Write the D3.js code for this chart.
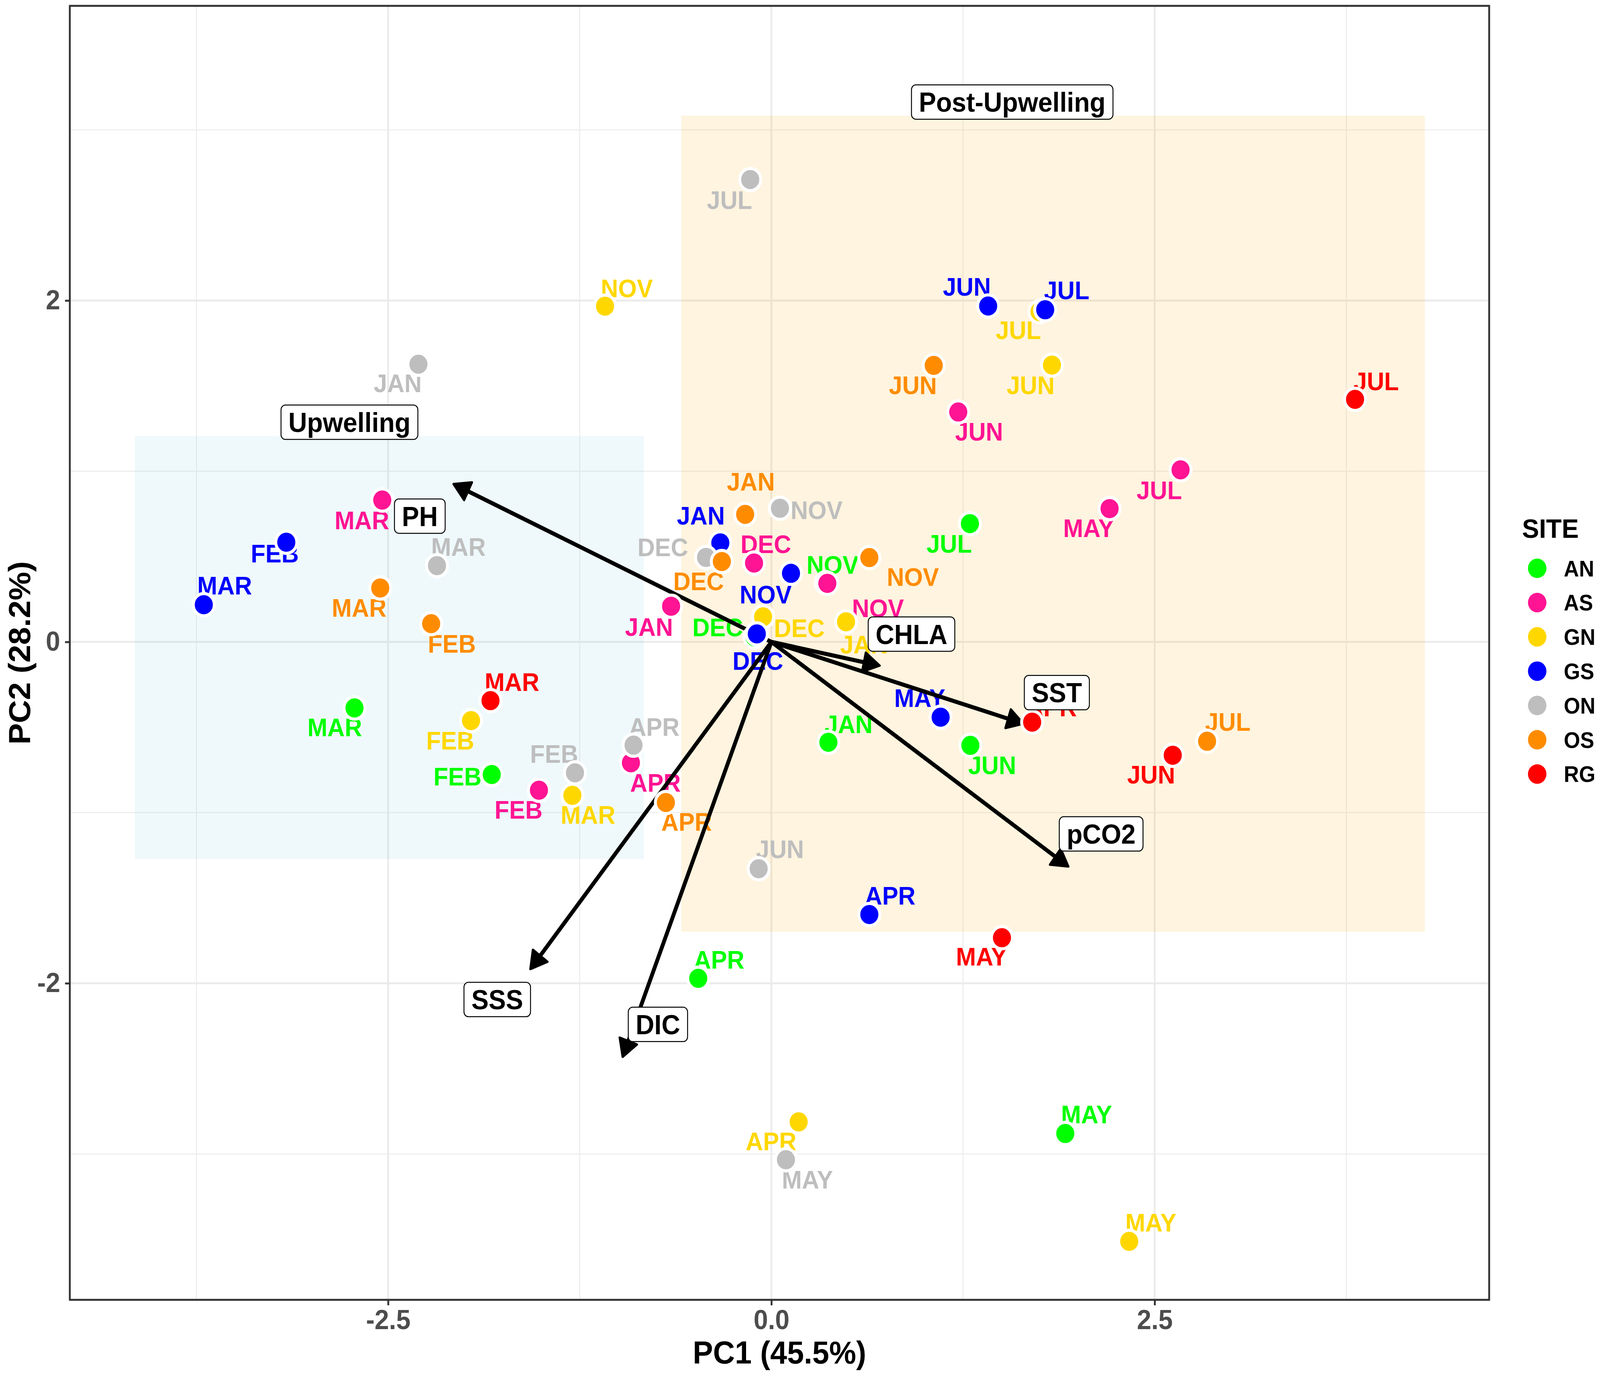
<!DOCTYPE html>
<html>
<head>
<meta charset="utf-8">
<script src="https://cdn.jsdelivr.net/npm/d3@7"></script>
<style>
  html, body { margin: 0; padding: 0; overflow: hidden; background: #fff; }
  svg { display: block; width: 100vw; height: 100vh; font-family: "Liberation Sans", Arial, Helvetica, sans-serif; font-weight: bold; }
</style>
</head>
<body>
<svg id="chart" viewBox="0 0 4331 3523" preserveAspectRatio="none"></svg>
<script>
// legend categories
const sites = ['AN', 'AS', 'GN', 'GS', 'ON', 'OS', 'RG'];
const siteColors = ['#00FF00', '#FF1493', '#FFD700', '#0000FF', '#BEBEBE', '#FF8C00', '#FF0000'];

// PCA scores, one row per site/month
const site = [
    'AN','AN','AN','AN','AN','AN','AN','AN','AN',
    'AS','AS','AS','AS','AS','AS','AS','AS','AS',
    'GN','GN','GN','GN','GN','GN','GN','GN','GN',
    'GS','GS','GS','GS','GS','GS','GS','GS','GS',
    'ON','ON','ON','ON','ON','ON','ON','ON','ON',
    'OS','OS','OS','OS','OS','OS','OS','OS',
    'RG','RG','RG','RG','RG'
];
const month = [
    'JAN','FEB','MAR','APR','MAY','JUN','JUL','NOV','DEC',
    'JAN','FEB','MAR','APR','MAY','JUN','JUL','NOV','DEC',
    'JAN','FEB','MAR','APR','MAY','JUN','JUL','NOV','DEC',
    'JAN','FEB','MAR','APR','MAY','JUN','JUL','NOV','DEC',
    'JAN','FEB','MAR','APR','MAY','JUN','JUL','NOV','DEC',
    'JAN','FEB','MAR','APR','JUN','JUL','NOV','DEC',
    'MAR','APR','MAY','JUN','JUL'
];
const pc1 = [
    0.372, -1.824, -2.719, -0.477, 1.917, 1.298, 1.295, 0.355, -0.110,
    -0.654, -1.516, -2.538, -0.916, 2.206, 1.219, 2.669, 0.365, -0.113,
    0.487, -1.959, -1.298, 0.178, 2.334, 1.830, 1.749, -1.085, -0.054,
    -0.333, -3.164, -3.702, 0.639, 1.104, 1.414, 1.786, 0.128, -0.095,
    -2.302, -1.281, -2.181, -0.899, 0.095, -0.083, -0.138, 0.056, -0.426,
    -0.171, -2.219, -2.551, -0.688, 1.059, 2.842, 0.639, -0.323,
    -1.832, 1.701, 1.504, 2.618, 3.807
];
const pc2 = [
    -0.588, -0.777, -0.387, -1.971, -2.880, -0.606, 0.693, 0.347, 0.030,
    0.209, -0.869, 0.831, -0.708, 0.781, 1.347, 1.008, 0.343, 0.462,
    0.118, -0.461, -0.899, -2.812, -3.512, 1.622, 1.935, 1.967, 0.147,
    0.580, 0.584, 0.218, -1.597, -0.441, 1.968, 1.946, 0.402, 0.047,
    1.627, -0.767, 0.447, -0.605, -3.034, -1.329, 2.709, 0.783, 0.495,
    0.747, 0.107, 0.316, -0.941, 1.620, -0.582, 0.494, 0.471,
    -0.344, -0.470, -1.733, -0.664, 1.421
];
// where the repelled month labels ended up (data units)
const labelX = [
    0.504, -2.047, -2.848, -0.341, 2.056, 1.440, 1.160, 0.399, -0.350,
    -0.798, -1.649, -2.671, -0.756, 2.070, 1.355, 2.530, 0.695, -0.036,
    0.605, -2.095, -1.196, -0.002, 2.475, 1.691, 1.611, -0.943, 0.182,
    -0.460, -3.239, -3.566, 0.775, 0.968, 1.275, 1.926, -0.037, -0.088,
    -2.437, -1.417, -2.041, -0.764, 0.235, 0.056, -0.273, 0.295, -0.708,
    -0.134, -2.084, -2.689, -0.553, 0.923, 2.977, 0.923, -0.475,
    -1.692, 1.827, 1.371, 2.477, 3.945
];
const labelY = [
    -0.481, -0.787, -0.499, -1.861, -2.766, -0.722, 0.576, 0.452, 0.086,
    0.089, -0.981, 0.714, -0.824, 0.669, 1.232, 0.891, 0.198, 0.575,
    -0.014, -0.577, -1.012, -2.924, -3.400, 1.505, 1.827, 2.074, 0.082,
    0.741, 0.520, 0.332, -1.485, -0.328, 2.082, 2.061, 0.278, -0.111,
    1.516, -0.654, 0.557, -0.496, -3.148, -1.214, 2.590, 0.773, 0.555,
    0.940, -0.009, 0.200, -1.054, 1.505, -0.466, 0.383, 0.357,
    -0.234, -0.383, -1.843, -0.776, 1.529
];

// loading vectors
const vecNames = ['PH', 'CHLA', 'SST', 'pCO2', 'SSS', 'DIC'];
const vecX = [-2.073, 0.706, 1.644, 1.937, -1.572, -0.970];
const vecY = [0.925, -0.139, -0.479, -1.316, -1.917, -2.431];
const vecLabelX = [-2.293, 0.914, 1.862, 2.151, -1.788, -0.740];
const vecLabelY = [0.737, 0.046, -0.297, -1.125, -2.095, -2.241];

// shaded seasons
const regionNames = ['Upwelling', 'Post-Upwelling'];
const regionX0 = [-4.152, -0.588];
const regionX1 = [-0.831, 4.262];
const regionY0 = [-1.272, -1.698];
const regionY1 = [1.205, 3.083];
const regionColors = ['#87CEEB', '#FFA500'];
const regionLabelX = [-2.752, 1.571];
const regionLabelY = [1.287, 3.163];

const xTicks = [-2.5, 0, 2.5];
const xMinor = [-3.75, -1.25, 1.25, 3.75];
const yTicks = [-2, 0, 2];
const yMinor = [-3, -1, 1, 3];

const panel = {left: 189, right: 4031, top: 15, bottom: 3328};

const x = d3.scaleLinear().domain([-4.5759, 4.6819]).range([panel.left, panel.right]);
const y = d3.scaleLinear().domain([-3.8547, 3.7265]).range([panel.bottom, panel.top]);
const color = d3.scaleOrdinal().domain(sites).range(siteColors);

const svg = d3.select('#chart');
svg.append('rect').attr('width', 4331).attr('height', 3523).attr('fill', '#fff');

const plot = svg.append('g');

// grid
plot.selectAll('.vminor').data(xMinor).enter().append('line')
    .attr('x1', d => x(d)).attr('x2', d => x(d))
    .attr('y1', panel.top).attr('y2', panel.bottom)
    .attr('stroke', '#EBEBEB').attr('stroke-width', 2.5);
plot.selectAll('.hminor').data(yMinor).enter().append('line')
    .attr('y1', d => y(d)).attr('y2', d => y(d))
    .attr('x1', panel.left).attr('x2', panel.right)
    .attr('stroke', '#EBEBEB').attr('stroke-width', 2.5);
plot.selectAll('.vmajor').data(xTicks).enter().append('line')
    .attr('x1', d => x(d)).attr('x2', d => x(d))
    .attr('y1', panel.top).attr('y2', panel.bottom)
    .attr('stroke', '#EBEBEB').attr('stroke-width', 5);
plot.selectAll('.hmajor').data(yTicks).enter().append('line')
    .attr('y1', d => y(d)).attr('y2', d => y(d))
    .attr('x1', panel.left).attr('x2', panel.right)
    .attr('stroke', '#EBEBEB').attr('stroke-width', 5);

// season rectangles
plot.selectAll('.region').data(regionNames).enter().append('rect')
    .attr('x', (d, i) => x(regionX0[i]))
    .attr('y', (d, i) => y(regionY1[i]))
    .attr('width', (d, i) => x(regionX1[i]) - x(regionX0[i]))
    .attr('height', (d, i) => y(regionY0[i]) - y(regionY1[i]))
    .attr('fill', (d, i) => regionColors[i])
    .attr('opacity', (d, i) => i === 0 ? 0.13 : 0.125);

const rows = site.map((s, i) => ({
    site: s, month: month[i], pc1: pc1[i], pc2: pc2[i], lx: labelX[i], ly: labelY[i]
}));

// month labels
plot.selectAll('.mlab').data(rows).enter().append('text')
    .attr('x', d => x(d.lx))
    .attr('y', d => y(d.ly))
    .attr('dy', '0.36em')
    .attr('text-anchor', 'middle')
    .attr('font-size', 65)
    .attr('fill', d => color(d.site))
    .text(d => d.month);

// leader line for the one label pushed away from its point
const farLabels = rows.filter(d => Math.hypot(x(d.lx) - x(d.pc1), y(d.ly) - y(d.pc2)) > 180);
plot.selectAll('.seg').data(farLabels).enter().append('line')
    .attr('x1', d => x(d.pc1)).attr('y1', d => y(d.pc2))
    .attr('x2', d => x(d.pc1) + (x(d.lx) - x(d.pc1)) * 0.42)
    .attr('y2', d => y(d.pc2) + (y(d.ly) - y(d.pc2)) * 0.42)
    .attr('stroke', d => color(d.site))
    .attr('stroke-width', 3.5);

// loading arrows
function headPath(x0, y0, x1, y1) {
    const len = Math.hypot(x1 - x0, y1 - y0);
    const ux = (x1 - x0) / len, uy = (y1 - y0) / len;
    const L = 50, a = Math.PI / 6;
    const bx = x1 - L * Math.cos(a) * ux, by = y1 - L * Math.cos(a) * uy;
    const w = L * Math.sin(a);
    return `M${x1},${y1}L${bx - uy * w},${by + ux * w}L${bx + uy * w},${by - ux * w}Z`;
}

const arrows = plot.selectAll('.vec').data(vecNames).enter().append('g');
arrows.append('line')
    .attr('x1', x(0)).attr('y1', y(0))
    .attr('x2', (d, i) => {
        const len = Math.hypot(x(vecX[i]) - x(0), y(vecY[i]) - y(0));
        return x(vecX[i]) - (x(vecX[i]) - x(0)) / len * 38;
    })
    .attr('y2', (d, i) => {
        const len = Math.hypot(x(vecX[i]) - x(0), y(vecY[i]) - y(0));
        return y(vecY[i]) - (y(vecY[i]) - y(0)) / len * 38;
    })
    .attr('stroke', '#000').attr('stroke-width', 10.5);
arrows.append('path')
    .attr('d', (d, i) => headPath(x(0), y(0), x(vecX[i]), y(vecY[i])))
    .attr('fill', '#000').attr('stroke', '#000')
    .attr('stroke-width', 6).attr('stroke-linejoin', 'round');

// points
plot.selectAll('.pt').data(rows).enter().append('circle')
    .attr('cx', d => x(d.pc1))
    .attr('cy', d => y(d.pc2))
    .attr('r', 28.5)
    .attr('fill', d => color(d.site))
    .attr('stroke', '#fff')
    .attr('stroke-width', 8);

// boxed labels
function boxLabel(g, tx, ty, text) {
    const t = g.append('text')
        .attr('x', tx).attr('y', ty).attr('dy', '0.36em')
        .attr('text-anchor', 'middle')
        .attr('font-size', 70)
        .attr('fill', '#000')
        .text(text);
    const w = t.node().getComputedTextLength() + 40;
    g.insert('rect', 'text')
        .attr('x', tx - w / 2).attr('y', ty - 44)
        .attr('width', w).attr('height', 88)
        .attr('rx', 12).attr('ry', 12)
        .attr('fill', '#fff').attr('stroke', '#000').attr('stroke-width', 2.5);
}

vecNames.forEach((n, i) => boxLabel(plot.append('g'), x(vecLabelX[i]), y(vecLabelY[i]), n));
regionNames.forEach((n, i) => boxLabel(plot.append('g'), x(regionLabelX[i]), y(regionLabelY[i]), n));

// panel border
svg.append('rect')
    .attr('x', panel.left).attr('y', panel.top)
    .attr('width', panel.right - panel.left).attr('height', panel.bottom - panel.top)
    .attr('fill', 'none').attr('stroke', '#333').attr('stroke-width', 5);

// axes
const xAxis = svg.append('g')
    .attr('transform', `translate(0,${panel.bottom})`)
    .call(d3.axisBottom(x).tickValues(xTicks).tickFormat(d => d.toFixed(1)).tickSize(14).tickPadding(11));
const yAxis = svg.append('g')
    .attr('transform', `translate(${panel.left},0)`)
    .call(d3.axisLeft(y).tickValues(yTicks).tickFormat(d => String(d)).tickSize(13).tickPadding(13));
[xAxis, yAxis].forEach(a => {
    a.select('.domain').remove();
    a.selectAll('.tick line').attr('stroke', '#333').attr('stroke-width', 5);
    a.selectAll('.tick text')
        .attr('fill', '#4D4D4D')
        .attr('font-size', 70)
        .attr('font-weight', 'bold')
        .attr('font-family', '"Liberation Sans", Arial, sans-serif');
});

svg.append('text')
    .attr('x', (panel.left + panel.right) / 2).attr('y', 3461).attr('dy', '0.36em')
    .attr('text-anchor', 'middle').attr('font-size', 82).attr('fill', '#000')
    .text('PC1 (45.5%)');
svg.append('text')
    .attr('transform', `translate(52,${(panel.top + panel.bottom) / 2}) rotate(-90)`)
    .attr('dy', '0.36em')
    .attr('text-anchor', 'middle').attr('font-size', 82).attr('fill', '#000')
    .text('PC2 (28.2%)');

// legend
const legend = svg.append('g');
legend.append('text')
    .attr('x', 4120).attr('y', 1352).attr('dy', '0.36em')
    .attr('font-size', 69).attr('fill', '#000')
    .text('SITE');
const items = legend.selectAll('.item').data(sites).enter().append('g')
    .attr('transform', (d, i) => `translate(4161,${1455 + i * 87.8})`);
items.append('circle')
    .attr('r', 25)
    .attr('fill', d => color(d));
items.append('text')
    .attr('x', 72).attr('dy', '0.36em')
    .attr('font-size', 57).attr('fill', '#000')
    .text(d => d);
</script>
</body>
</html>
